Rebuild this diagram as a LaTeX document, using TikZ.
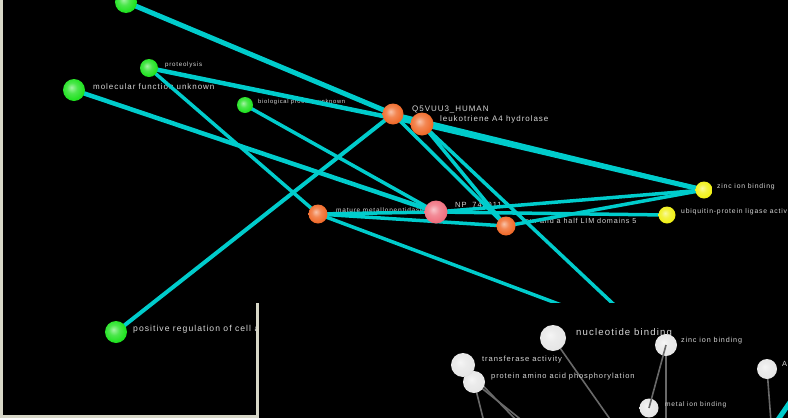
\documentclass[tikz,border=0pt]{standalone}
\usepackage{fontspec}
\newfontfamily\labfont{Liberation Sans}[LetterSpace=12]
\usetikzlibrary{backgrounds}
\pgfdeclarelayer{bgl}
\pgfdeclarelayer{labl}
\pgfdeclarelayer{ins}
\pgfdeclarelayer{insfg}
\pgfsetlayers{bgl,labl,background,main,ins,insfg}
\makeatletter
\pgfdeclareradialshading[tikz@ball]{vball}{\pgfpoint{-6bp}{6bp}}{%
  color(0bp)=(tikz@ball!40!white);
  color(12bp)=(tikz@ball!80!white);
  color(26bp)=(tikz@ball);
  color(40bp)=(tikz@ball!72!black);
  color(50bp)=(tikz@ball!45!black)}
\makeatother
\definecolor{edgec}{RGB}{0,204,204}
\definecolor{gcol}{RGB}{30,225,30}
\definecolor{ocol}{RGB}{240,105,40}
\definecolor{pcol}{RGB}{240,110,125}
\definecolor{ycol}{RGB}{240,240,20}
\definecolor{wcol}{RGB}{230,230,230}
\definecolor{labgray}{RGB}{215,215,215}
\definecolor{framec}{RGB}{215,215,200}
\definecolor{grayedge}{RGB}{105,105,105}
\tikzset{
  ballnode/.style={circle,inner sep=0pt,minimum size=#1},
  gball/.style={ballnode=#1,ball color=gcol,shading=vball},
  oball/.style={ballnode=#1,ball color=ocol,shading=vball},
  pball/.style={ballnode=#1,ball color=pcol,shading=vball},
  yball/.style={ballnode=#1,ball color=ycol,shading=vball},
  wball/.style={ballnode=#1,ball color=wcol,shading=vball},
  lab/.style={font=\labfont\fontsize{#1}{#1}\selectfont,text=labgray,anchor=west,inner sep=0pt},
  cy/.style={draw=edgec,line width=#1},
  gy/.style={draw=grayedge,line width=1.6pt},
}
\begin{document}
\begin{tikzpicture}[x=1pt,y=-1pt]
\useasboundingbox (0,0) rectangle (788,418);
\clip (0,0) rectangle (788,418);
\begin{pgfonlayer}{bgl}
\fill[black] (-5,-5) rectangle (795,425);
\end{pgfonlayer}
% main graph nodes
\node[gball=22pt] (gtop) at (126,2) {};
\node[gball=18pt] (prot) at (149,68) {};
\node[gball=22pt] (molf) at (74,90) {};
\node[gball=16pt] (bio) at (245,105) {};
\node[oball=21pt] (q5) at (393,114) {};
\node[oball=23pt] (leuk) at (422,124) {};
\node[pball=23pt] (np) at (436,212) {};
\node[oball=19pt] (meta) at (318,214) {};
\node[oball=19pt] (four) at (506,226) {};
\node[yball=17pt] (zinc) at (704,190) {};
\node[yball=17pt] (ubiq) at (667,215) {};
\node[gball=22pt] (posr) at (116,332) {};
\coordinate (off1) at (625,315);
\coordinate (off2) at (580,312);
% labels
\begin{pgfonlayer}{labl}
\node[lab=6.2pt] (lprot) at (165,65) {proteolysis};
\node[lab=8pt] (lmolf) at (93,87) {molecular function unknown};
\node[lab=5.8pt] (lbio) at (258,102) {biological process unknown};
\node[lab=8pt] (lq5) at (412,109) {Q5VUU3\_HUMAN};
\node[lab=8pt] (lleuk) at (440,119) {leukotriene A4 hydrolase};
\node[lab=7.5pt] (lnp) at (455,206) {NP\_742011.1};
\node[lab=6.5pt] (lmeta) at (336,211) {mature metallopeptidase};
\node[lab=7.2pt] (lfour) at (522,221) {four and a half LIM domains 5};
\node[lab=6.8pt] (lzinc) at (717,187) {zinc ion binding};
\node[lab=6.8pt] (lubiq) at (681,212) {ubiquitin-protein ligase activity};
\node[lab=8.6pt] (lposr) at (133,329) {positive regulation of cell adhesion};
\end{pgfonlayer}
% edges
\begin{pgfonlayer}{background}
\draw[cy=5pt] (gtop.center) -- (q5.center);
\draw[cy=4.5pt] (prot.center) -- (leuk.center);
\draw[cy=3.5pt] (prot.center) -- (meta.center);
\draw[cy=4.5pt] (molf.center) -- (np.center);
\draw[cy=3.5pt] (bio.center) -- (np.center);
\draw[cy=4pt] (q5.center) -- (posr.center);
\draw[cy=3.5pt] (q5.center) -- (four.center);
\draw[cy=3.5pt] (leuk.center) -- (four.center);
\draw[cy=3.5pt] (leuk.center) -- (off1);
\draw[cy=4pt] (q5.center) -- (zinc.center);
\draw[cy=5pt] (leuk.center) -- (zinc.center);
\draw[cy=3.5pt] (np.center) -- (zinc.center);
\draw[cy=3.5pt] (np.center) -- (ubiq.center);
\draw[cy=3.5pt] (four.center) -- (zinc.center);
\draw[cy=3.5pt] (meta.center) -- (np.center);
\draw[cy=3.5pt] (meta.center) -- (four.center);
\draw[cy=3.5pt] (meta.center) -- (off2);
\end{pgfonlayer}
% inset window
\begin{pgfonlayer}{ins}
\fill[black] (258,303) rectangle (795,425);
\end{pgfonlayer}
\begin{pgfonlayer}{insfg}
\node[wball=26pt] (nucl) at (553,338) {};
\node[wball=22pt] (zinc2) at (666,345) {};
\node[wball=22pt] (prot2) at (474,382) {};
\node[wball=24pt] (trans) at (463,365) {};
\node[wball=19pt] (metal) at (649,408) {};
\node[wball=20pt] (a2) at (767,369) {};
\end{pgfonlayer}
\coordinate (g1) at (518,422);
\coordinate (g2) at (524,422);
\coordinate (g3) at (484,422);
\coordinate (g4) at (612,422);
\coordinate (g5) at (666,422);
\coordinate (g6) at (771,422);
\coordinate (c1) at (775,424);
\coordinate (c2) at (797,392);
\begin{pgfonlayer}{ins}
\draw[gy] (trans.center) -- (g1);
\draw[gy] (prot2.center) -- (g2);
\draw[gy] (prot2.center) -- (g3);
\draw[gy] (nucl.center) -- (g4);
\draw[gy] (zinc2.center) -- (g5);
\draw[gy] (a2.center) -- (g6);
\draw[cy=5pt] (c1) -- (c2);
\node[lab=9.6pt] (lnucl) at (576,333) {nucleotide binding};
\node[lab=7.2pt] (lzinc2) at (681,341) {zinc ion binding};
\node[lab=7.6pt] (ltrans) at (482,360) {transferase activity};
\node[lab=7.5pt] (lprot2) at (491,377) {protein amino acid phosphorylation};
\node[lab=6.6pt] (lmetal) at (665,405) {metal ion binding};
\node[lab=7.5pt] (la2) at (782,364) {A};
\end{pgfonlayer}
\begin{pgfonlayer}{insfg}
\draw[gy] (zinc2.center) -- (metal.center);
\draw[draw=framec,line width=3pt] (257.5,303) -- (257.5,425);
\draw[draw=framec,line width=3pt] (-2,416.5) -- (257.5,416.5);
\draw[draw=framec,line width=2.5pt] (1.5,-2) -- (1.5,420);
\end{pgfonlayer}
\end{tikzpicture}
\end{document}
